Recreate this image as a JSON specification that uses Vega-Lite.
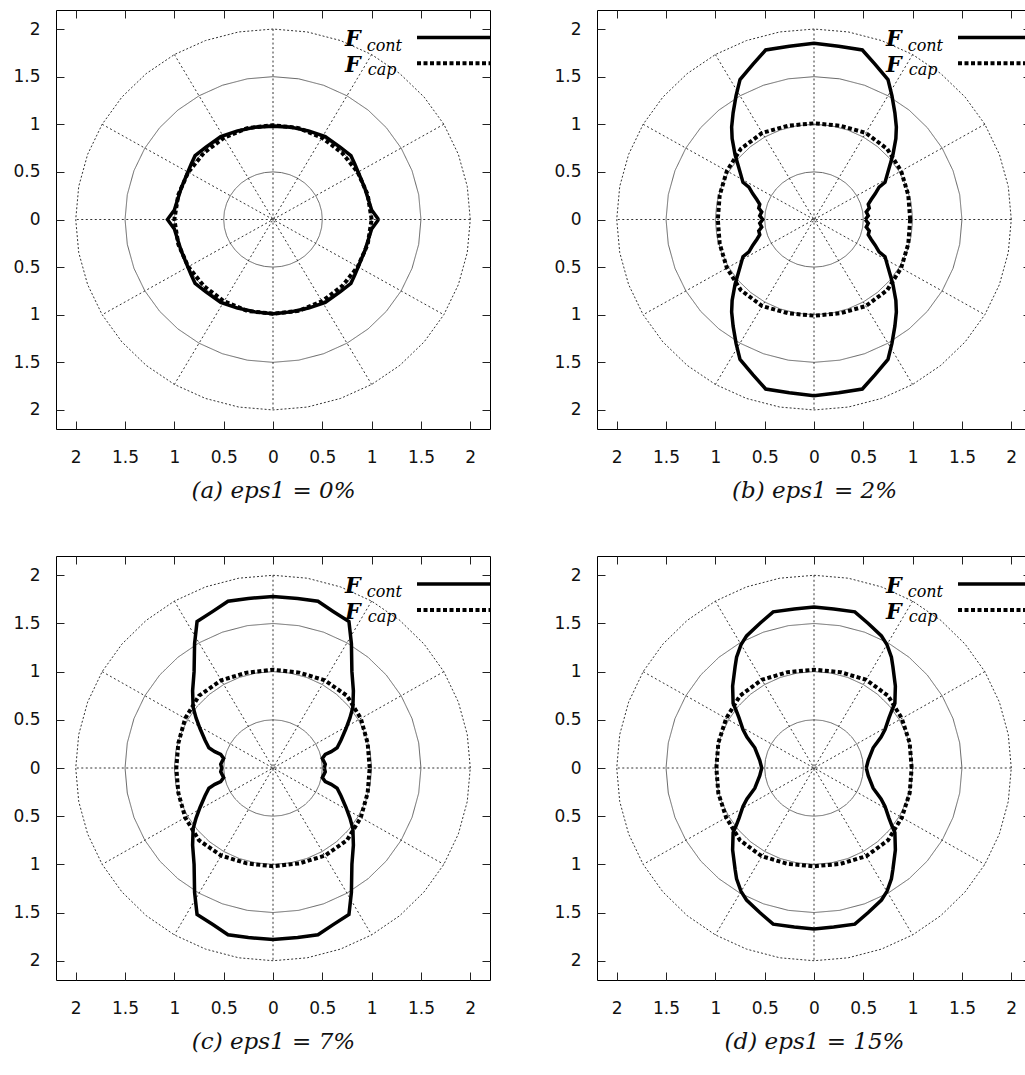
{
"$schema": "https://vega.github.io/schema/vega-lite/v6.json",
"background": "white",
"padding": {"left": 12, "top": 9, "right": 5, "bottom": 5},
"bounds": "flush",
"columns": 2,
"spacing": {"row": 127, "column": 107},
"config": {
 "view": {"stroke": "#000000", "strokeWidth": 1},
 "axis": {"grid": false, "domain": false, "tickSize": -8, "tickColor": "#222222", "tickWidth": 1, "labelFont": "DejaVu Sans", "labelFontSize": 17, "labelColor": "#111111", "titleFont": "DejaVu Serif", "titleFontStyle": "italic", "titleFontWeight": "normal", "titleFontSize": 23, "titleColor": "#111111"}
},
"datasets": {
"spokes": [
{"x":2,"y":0,"x2":-2,"y2":0},
{"x":1.7321,"y":1,"x2":-1.7321,"y2":-1},
{"x":1,"y":1.7321,"x2":-1,"y2":-1.7321},
{"x":0,"y":2,"x2":0,"y2":-2},
{"x":-1,"y":1.7321,"x2":1,"y2":-1.7321},
{"x":-1.7321,"y":1,"x2":1.7321,"y2":-1}
],
"grid": [
{"r":0.5,"i":0,"x":0.5,"y":0},{"r":0.5,"i":1,"x":0.4924,"y":0.0868},{"r":0.5,"i":2,"x":0.4698,"y":0.171},{"r":0.5,"i":3,"x":0.433,"y":0.25},{"r":0.5,"i":4,"x":0.383,"y":0.3214},{"r":0.5,"i":5,"x":0.3214,"y":0.383},{"r":0.5,"i":6,"x":0.25,"y":0.433},{"r":0.5,"i":7,"x":0.171,"y":0.4698},{"r":0.5,"i":8,"x":0.0868,"y":0.4924},{"r":0.5,"i":9,"x":0,"y":0.5},{"r":0.5,"i":10,"x":-0.0868,"y":0.4924},{"r":0.5,"i":11,"x":-0.171,"y":0.4698},{"r":0.5,"i":12,"x":-0.25,"y":0.433},{"r":0.5,"i":13,"x":-0.3214,"y":0.383},{"r":0.5,"i":14,"x":-0.383,"y":0.3214},{"r":0.5,"i":15,"x":-0.433,"y":0.25},{"r":0.5,"i":16,"x":-0.4698,"y":0.171},{"r":0.5,"i":17,"x":-0.4924,"y":0.0868},{"r":0.5,"i":18,"x":-0.5,"y":0},{"r":0.5,"i":19,"x":-0.4924,"y":-0.0868},{"r":0.5,"i":20,"x":-0.4698,"y":-0.171},{"r":0.5,"i":21,"x":-0.433,"y":-0.25},{"r":0.5,"i":22,"x":-0.383,"y":-0.3214},{"r":0.5,"i":23,"x":-0.3214,"y":-0.383},{"r":0.5,"i":24,"x":-0.25,"y":-0.433},{"r":0.5,"i":25,"x":-0.171,"y":-0.4698},{"r":0.5,"i":26,"x":-0.0868,"y":-0.4924},{"r":0.5,"i":27,"x":0,"y":-0.5},{"r":0.5,"i":28,"x":0.0868,"y":-0.4924},{"r":0.5,"i":29,"x":0.171,"y":-0.4698},{"r":0.5,"i":30,"x":0.25,"y":-0.433},{"r":0.5,"i":31,"x":0.3214,"y":-0.383},{"r":0.5,"i":32,"x":0.383,"y":-0.3214},{"r":0.5,"i":33,"x":0.433,"y":-0.25},{"r":0.5,"i":34,"x":0.4698,"y":-0.171},{"r":0.5,"i":35,"x":0.4924,"y":-0.0868},{"r":0.5,"i":36,"x":0.5,"y":0},
{"r":1,"i":0,"x":1,"y":0},{"r":1,"i":1,"x":0.9848,"y":0.1736},{"r":1,"i":2,"x":0.9397,"y":0.342},{"r":1,"i":3,"x":0.866,"y":0.5},{"r":1,"i":4,"x":0.766,"y":0.6428},{"r":1,"i":5,"x":0.6428,"y":0.766},{"r":1,"i":6,"x":0.5,"y":0.866},{"r":1,"i":7,"x":0.342,"y":0.9397},{"r":1,"i":8,"x":0.1736,"y":0.9848},{"r":1,"i":9,"x":0,"y":1},{"r":1,"i":10,"x":-0.1736,"y":0.9848},{"r":1,"i":11,"x":-0.342,"y":0.9397},{"r":1,"i":12,"x":-0.5,"y":0.866},{"r":1,"i":13,"x":-0.6428,"y":0.766},{"r":1,"i":14,"x":-0.766,"y":0.6428},{"r":1,"i":15,"x":-0.866,"y":0.5},{"r":1,"i":16,"x":-0.9397,"y":0.342},{"r":1,"i":17,"x":-0.9848,"y":0.1736},{"r":1,"i":18,"x":-1,"y":0},{"r":1,"i":19,"x":-0.9848,"y":-0.1736},{"r":1,"i":20,"x":-0.9397,"y":-0.342},{"r":1,"i":21,"x":-0.866,"y":-0.5},{"r":1,"i":22,"x":-0.766,"y":-0.6428},{"r":1,"i":23,"x":-0.6428,"y":-0.766},{"r":1,"i":24,"x":-0.5,"y":-0.866},{"r":1,"i":25,"x":-0.342,"y":-0.9397},{"r":1,"i":26,"x":-0.1736,"y":-0.9848},{"r":1,"i":27,"x":0,"y":-1},{"r":1,"i":28,"x":0.1736,"y":-0.9848},{"r":1,"i":29,"x":0.342,"y":-0.9397},{"r":1,"i":30,"x":0.5,"y":-0.866},{"r":1,"i":31,"x":0.6428,"y":-0.766},{"r":1,"i":32,"x":0.766,"y":-0.6428},{"r":1,"i":33,"x":0.866,"y":-0.5},{"r":1,"i":34,"x":0.9397,"y":-0.342},{"r":1,"i":35,"x":0.9848,"y":-0.1736},{"r":1,"i":36,"x":1,"y":0},
{"r":1.5,"i":0,"x":1.5,"y":0},{"r":1.5,"i":1,"x":1.4772,"y":0.2604},{"r":1.5,"i":2,"x":1.4095,"y":0.513},{"r":1.5,"i":3,"x":1.299,"y":0.75},{"r":1.5,"i":4,"x":1.149,"y":0.9642},{"r":1.5,"i":5,"x":0.9642,"y":1.149},{"r":1.5,"i":6,"x":0.75,"y":1.299},{"r":1.5,"i":7,"x":0.513,"y":1.4095},{"r":1.5,"i":8,"x":0.2604,"y":1.4772},{"r":1.5,"i":9,"x":0,"y":1.5},{"r":1.5,"i":10,"x":-0.2604,"y":1.4772},{"r":1.5,"i":11,"x":-0.513,"y":1.4095},{"r":1.5,"i":12,"x":-0.75,"y":1.299},{"r":1.5,"i":13,"x":-0.9642,"y":1.149},{"r":1.5,"i":14,"x":-1.149,"y":0.9642},{"r":1.5,"i":15,"x":-1.299,"y":0.75},{"r":1.5,"i":16,"x":-1.4095,"y":0.513},{"r":1.5,"i":17,"x":-1.4772,"y":0.2604},{"r":1.5,"i":18,"x":-1.5,"y":0},{"r":1.5,"i":19,"x":-1.4772,"y":-0.2604},{"r":1.5,"i":20,"x":-1.4095,"y":-0.513},{"r":1.5,"i":21,"x":-1.299,"y":-0.75},{"r":1.5,"i":22,"x":-1.149,"y":-0.9642},{"r":1.5,"i":23,"x":-0.9642,"y":-1.149},{"r":1.5,"i":24,"x":-0.75,"y":-1.299},{"r":1.5,"i":25,"x":-0.513,"y":-1.4095},{"r":1.5,"i":26,"x":-0.2604,"y":-1.4772},{"r":1.5,"i":27,"x":0,"y":-1.5},{"r":1.5,"i":28,"x":0.2604,"y":-1.4772},{"r":1.5,"i":29,"x":0.513,"y":-1.4095},{"r":1.5,"i":30,"x":0.75,"y":-1.299},{"r":1.5,"i":31,"x":0.9642,"y":-1.149},{"r":1.5,"i":32,"x":1.149,"y":-0.9642},{"r":1.5,"i":33,"x":1.299,"y":-0.75},{"r":1.5,"i":34,"x":1.4095,"y":-0.513},{"r":1.5,"i":35,"x":1.4772,"y":-0.2604},{"r":1.5,"i":36,"x":1.5,"y":0},
{"r":2,"i":0,"x":2,"y":0},{"r":2,"i":1,"x":1.9696,"y":0.3472},{"r":2,"i":2,"x":1.8794,"y":0.684},{"r":2,"i":3,"x":1.7321,"y":1},{"r":2,"i":4,"x":1.532,"y":1.2856},{"r":2,"i":5,"x":1.2856,"y":1.532},{"r":2,"i":6,"x":1,"y":1.7321},{"r":2,"i":7,"x":0.684,"y":1.8794},{"r":2,"i":8,"x":0.3472,"y":1.9696},{"r":2,"i":9,"x":0,"y":2},{"r":2,"i":10,"x":-0.3472,"y":1.9696},{"r":2,"i":11,"x":-0.684,"y":1.8794},{"r":2,"i":12,"x":-1,"y":1.7321},{"r":2,"i":13,"x":-1.2856,"y":1.532},{"r":2,"i":14,"x":-1.532,"y":1.2856},{"r":2,"i":15,"x":-1.7321,"y":1},{"r":2,"i":16,"x":-1.8794,"y":0.684},{"r":2,"i":17,"x":-1.9696,"y":0.3472},{"r":2,"i":18,"x":-2,"y":0},{"r":2,"i":19,"x":-1.9696,"y":-0.3472},{"r":2,"i":20,"x":-1.8794,"y":-0.684},{"r":2,"i":21,"x":-1.7321,"y":-1},{"r":2,"i":22,"x":-1.532,"y":-1.2856},{"r":2,"i":23,"x":-1.2856,"y":-1.532},{"r":2,"i":24,"x":-1,"y":-1.7321},{"r":2,"i":25,"x":-0.684,"y":-1.8794},{"r":2,"i":26,"x":-0.3472,"y":-1.9696},{"r":2,"i":27,"x":0,"y":-2},{"r":2,"i":28,"x":0.3472,"y":-1.9696},{"r":2,"i":29,"x":0.684,"y":-1.8794},{"r":2,"i":30,"x":1,"y":-1.7321},{"r":2,"i":31,"x":1.2856,"y":-1.532},{"r":2,"i":32,"x":1.532,"y":-1.2856},{"r":2,"i":33,"x":1.7321,"y":-1},{"r":2,"i":34,"x":1.8794,"y":-0.684},{"r":2,"i":35,"x":1.9696,"y":-0.3472},{"r":2,"i":36,"x":2,"y":0}
],
"a_cont": [
{"i":0,"x":1.07,"y":0},{"i":1,"x":1.0,"y":0.1},{"i":2,"x":0.97,"y":0.2},{"i":3,"x":0.93,"y":0.33},{"i":4,"x":0.87,"y":0.48},{"i":5,"x":0.83,"y":0.58},{"i":6,"x":0.79,"y":0.67},{"i":7,"x":0.68,"y":0.76},{"i":8,"x":0.53,"y":0.87},{"i":9,"x":0.36,"y":0.93},{"i":10,"x":0.18,"y":0.97},{"i":11,"x":0,"y":0.98},
{"i":12,"x":-0.18,"y":0.97},{"i":13,"x":-0.36,"y":0.93},{"i":14,"x":-0.53,"y":0.87},{"i":15,"x":-0.68,"y":0.76},{"i":16,"x":-0.79,"y":0.67},{"i":17,"x":-0.83,"y":0.58},{"i":18,"x":-0.87,"y":0.48},{"i":19,"x":-0.93,"y":0.33},{"i":20,"x":-0.97,"y":0.2},{"i":21,"x":-1.0,"y":0.1},{"i":22,"x":-1.07,"y":0},
{"i":23,"x":-1.0,"y":-0.1},{"i":24,"x":-0.97,"y":-0.2},{"i":25,"x":-0.93,"y":-0.33},{"i":26,"x":-0.87,"y":-0.48},{"i":27,"x":-0.83,"y":-0.58},{"i":28,"x":-0.79,"y":-0.67},{"i":29,"x":-0.68,"y":-0.76},{"i":30,"x":-0.53,"y":-0.87},{"i":31,"x":-0.36,"y":-0.93},{"i":32,"x":-0.18,"y":-0.97},{"i":33,"x":0,"y":-0.99},
{"i":34,"x":0.18,"y":-0.97},{"i":35,"x":0.36,"y":-0.93},{"i":36,"x":0.53,"y":-0.87},{"i":37,"x":0.68,"y":-0.76},{"i":38,"x":0.79,"y":-0.67},{"i":39,"x":0.83,"y":-0.58},{"i":40,"x":0.87,"y":-0.48},{"i":41,"x":0.93,"y":-0.33},{"i":42,"x":0.97,"y":-0.2},{"i":43,"x":1.0,"y":-0.1},{"i":44,"x":1.07,"y":0}
],
"a_cap": [
{"i":0,"x":1,"y":0},{"i":1,"x":0.96,"y":0.26},{"i":2,"x":0.86,"y":0.495},{"i":3,"x":0.7,"y":0.7},{"i":4,"x":0.495,"y":0.86},{"i":5,"x":0.26,"y":0.96},{"i":6,"x":0,"y":0.99},
{"i":7,"x":-0.26,"y":0.96},{"i":8,"x":-0.495,"y":0.86},{"i":9,"x":-0.7,"y":0.7},{"i":10,"x":-0.86,"y":0.495},{"i":11,"x":-0.96,"y":0.26},{"i":12,"x":-1,"y":0},
{"i":13,"x":-0.96,"y":-0.26},{"i":14,"x":-0.86,"y":-0.495},{"i":15,"x":-0.7,"y":-0.7},{"i":16,"x":-0.495,"y":-0.86},{"i":17,"x":-0.26,"y":-0.96},{"i":18,"x":0,"y":-0.99},
{"i":19,"x":0.26,"y":-0.96},{"i":20,"x":0.495,"y":-0.86},{"i":21,"x":0.7,"y":-0.7},{"i":22,"x":0.86,"y":-0.495},{"i":23,"x":0.96,"y":-0.26},{"i":24,"x":1,"y":0}
],
"b_cont": [
{"i":0,"x":0.52,"y":0},{"i":1,"x":0.55,"y":0.04},{"i":2,"x":0.53,"y":0.08},{"i":3,"x":0.56,"y":0.12},{"i":4,"x":0.55,"y":0.16},{"i":5,"x":0.58,"y":0.21},{"i":6,"x":0.62,"y":0.27},{"i":7,"x":0.66,"y":0.34},{"i":8,"x":0.72,"y":0.39},{"i":9,"x":0.75,"y":0.5},{"i":10,"x":0.8,"y":0.68},{"i":11,"x":0.83,"y":0.85},{"i":12,"x":0.835,"y":0.97},{"i":13,"x":0.82,"y":1.12},{"i":14,"x":0.79,"y":1.3},{"i":15,"x":0.75,"y":1.47},{"i":16,"x":0.62,"y":1.63},{"i":17,"x":0.49,"y":1.78},{"i":18,"x":0.25,"y":1.82},{"i":19,"x":0,"y":1.85},
{"i":20,"x":-0.25,"y":1.82},{"i":21,"x":-0.49,"y":1.78},{"i":22,"x":-0.62,"y":1.63},{"i":23,"x":-0.75,"y":1.47},{"i":24,"x":-0.79,"y":1.3},{"i":25,"x":-0.82,"y":1.12},{"i":26,"x":-0.835,"y":0.97},{"i":27,"x":-0.83,"y":0.85},{"i":28,"x":-0.8,"y":0.68},{"i":29,"x":-0.75,"y":0.5},{"i":30,"x":-0.72,"y":0.39},{"i":31,"x":-0.66,"y":0.34},{"i":32,"x":-0.62,"y":0.27},{"i":33,"x":-0.58,"y":0.21},{"i":34,"x":-0.55,"y":0.16},{"i":35,"x":-0.56,"y":0.12},{"i":36,"x":-0.53,"y":0.08},{"i":37,"x":-0.55,"y":0.04},{"i":38,"x":-0.52,"y":0},
{"i":39,"x":-0.55,"y":-0.04},{"i":40,"x":-0.53,"y":-0.08},{"i":41,"x":-0.56,"y":-0.12},{"i":42,"x":-0.55,"y":-0.16},{"i":43,"x":-0.58,"y":-0.21},{"i":44,"x":-0.62,"y":-0.27},{"i":45,"x":-0.66,"y":-0.34},{"i":46,"x":-0.72,"y":-0.39},{"i":47,"x":-0.75,"y":-0.5},{"i":48,"x":-0.8,"y":-0.68},{"i":49,"x":-0.83,"y":-0.85},{"i":50,"x":-0.835,"y":-0.97},{"i":51,"x":-0.82,"y":-1.12},{"i":52,"x":-0.79,"y":-1.3},{"i":53,"x":-0.75,"y":-1.47},{"i":54,"x":-0.62,"y":-1.63},{"i":55,"x":-0.49,"y":-1.78},{"i":56,"x":-0.25,"y":-1.82},{"i":57,"x":0,"y":-1.85},
{"i":58,"x":0.25,"y":-1.82},{"i":59,"x":0.49,"y":-1.78},{"i":60,"x":0.62,"y":-1.63},{"i":61,"x":0.75,"y":-1.47},{"i":62,"x":0.79,"y":-1.3},{"i":63,"x":0.82,"y":-1.12},{"i":64,"x":0.835,"y":-0.97},{"i":65,"x":0.83,"y":-0.85},{"i":66,"x":0.8,"y":-0.68},{"i":67,"x":0.75,"y":-0.5},{"i":68,"x":0.72,"y":-0.39},{"i":69,"x":0.66,"y":-0.34},{"i":70,"x":0.62,"y":-0.27},{"i":71,"x":0.58,"y":-0.21},{"i":72,"x":0.55,"y":-0.16},{"i":73,"x":0.56,"y":-0.12},{"i":74,"x":0.53,"y":-0.08},{"i":75,"x":0.55,"y":-0.04},{"i":76,"x":0.52,"y":0}
],
"b_cap": [
{"i":0,"x":0.975,"y":0},{"i":1,"x":0.956,"y":0.256},{"i":2,"x":0.883,"y":0.51},{"i":3,"x":0.742,"y":0.742},{"i":4,"x":0.525,"y":0.909},{"i":5,"x":0.264,"y":0.985},{"i":6,"x":0,"y":1.01},
{"i":7,"x":-0.264,"y":0.985},{"i":8,"x":-0.525,"y":0.909},{"i":9,"x":-0.742,"y":0.742},{"i":10,"x":-0.883,"y":0.51},{"i":11,"x":-0.956,"y":0.256},{"i":12,"x":-0.975,"y":0},
{"i":13,"x":-0.956,"y":-0.256},{"i":14,"x":-0.883,"y":-0.51},{"i":15,"x":-0.742,"y":-0.742},{"i":16,"x":-0.525,"y":-0.909},{"i":17,"x":-0.264,"y":-0.985},{"i":18,"x":0,"y":-1.01},
{"i":19,"x":0.264,"y":-0.985},{"i":20,"x":0.525,"y":-0.909},{"i":21,"x":0.742,"y":-0.742},{"i":22,"x":0.883,"y":-0.51},{"i":23,"x":0.956,"y":-0.256},{"i":24,"x":0.975,"y":0}
],
"c_cont": [
{"i":0,"x":0.52,"y":0},{"i":1,"x":0.53,"y":0.04},{"i":2,"x":0.5,"y":0.1},{"i":3,"x":0.53,"y":0.14},{"i":4,"x":0.59,"y":0.17},{"i":5,"x":0.65,"y":0.21},{"i":6,"x":0.69,"y":0.29},{"i":7,"x":0.74,"y":0.41},{"i":8,"x":0.78,"y":0.52},{"i":9,"x":0.81,"y":0.63},{"i":10,"x":0.815,"y":0.8},{"i":11,"x":0.8,"y":1},{"i":12,"x":0.795,"y":1.29},{"i":13,"x":0.77,"y":1.52},{"i":14,"x":0.61,"y":1.625},{"i":15,"x":0.456,"y":1.73},{"i":16,"x":0.25,"y":1.76},{"i":17,"x":0,"y":1.78},
{"i":18,"x":-0.25,"y":1.76},{"i":19,"x":-0.456,"y":1.73},{"i":20,"x":-0.61,"y":1.625},{"i":21,"x":-0.77,"y":1.52},{"i":22,"x":-0.795,"y":1.29},{"i":23,"x":-0.8,"y":1},{"i":24,"x":-0.815,"y":0.8},{"i":25,"x":-0.81,"y":0.63},{"i":26,"x":-0.78,"y":0.52},{"i":27,"x":-0.74,"y":0.41},{"i":28,"x":-0.69,"y":0.29},{"i":29,"x":-0.65,"y":0.21},{"i":30,"x":-0.59,"y":0.17},{"i":31,"x":-0.53,"y":0.14},{"i":32,"x":-0.5,"y":0.1},{"i":33,"x":-0.53,"y":0.04},{"i":34,"x":-0.52,"y":0},
{"i":35,"x":-0.53,"y":-0.04},{"i":36,"x":-0.5,"y":-0.1},{"i":37,"x":-0.53,"y":-0.14},{"i":38,"x":-0.59,"y":-0.17},{"i":39,"x":-0.65,"y":-0.21},{"i":40,"x":-0.69,"y":-0.29},{"i":41,"x":-0.74,"y":-0.41},{"i":42,"x":-0.78,"y":-0.52},{"i":43,"x":-0.81,"y":-0.63},{"i":44,"x":-0.815,"y":-0.8},{"i":45,"x":-0.8,"y":-1},{"i":46,"x":-0.795,"y":-1.29},{"i":47,"x":-0.77,"y":-1.52},{"i":48,"x":-0.61,"y":-1.625},{"i":49,"x":-0.456,"y":-1.73},{"i":50,"x":-0.25,"y":-1.76},{"i":51,"x":0,"y":-1.78},
{"i":52,"x":0.25,"y":-1.76},{"i":53,"x":0.456,"y":-1.73},{"i":54,"x":0.61,"y":-1.625},{"i":55,"x":0.77,"y":-1.52},{"i":56,"x":0.795,"y":-1.29},{"i":57,"x":0.8,"y":-1},{"i":58,"x":0.815,"y":-0.8},{"i":59,"x":0.81,"y":-0.63},{"i":60,"x":0.78,"y":-0.52},{"i":61,"x":0.74,"y":-0.41},{"i":62,"x":0.69,"y":-0.29},{"i":63,"x":0.65,"y":-0.21},{"i":64,"x":0.59,"y":-0.17},{"i":65,"x":0.53,"y":-0.14},{"i":66,"x":0.5,"y":-0.1},{"i":67,"x":0.53,"y":-0.04},{"i":68,"x":0.52,"y":0}
],
"c_cap": [
{"i":0,"x":0.98,"y":0},{"i":1,"x":0.96,"y":0.257},{"i":2,"x":0.89,"y":0.515},{"i":3,"x":0.75,"y":0.75},{"i":4,"x":0.525,"y":0.91},{"i":5,"x":0.266,"y":0.99},{"i":6,"x":0,"y":1.02},
{"i":7,"x":-0.266,"y":0.99},{"i":8,"x":-0.525,"y":0.91},{"i":9,"x":-0.75,"y":0.75},{"i":10,"x":-0.89,"y":0.515},{"i":11,"x":-0.96,"y":0.257},{"i":12,"x":-0.98,"y":0},
{"i":13,"x":-0.96,"y":-0.257},{"i":14,"x":-0.89,"y":-0.515},{"i":15,"x":-0.75,"y":-0.75},{"i":16,"x":-0.525,"y":-0.91},{"i":17,"x":-0.266,"y":-0.99},{"i":18,"x":0,"y":-1.02},
{"i":19,"x":0.266,"y":-0.99},{"i":20,"x":0.525,"y":-0.91},{"i":21,"x":0.75,"y":-0.75},{"i":22,"x":0.89,"y":-0.515},{"i":23,"x":0.96,"y":-0.257},{"i":24,"x":0.98,"y":0}
],
"d_cont": [
{"i":0,"x":0.53,"y":0},{"i":1,"x":0.55,"y":0.08},{"i":2,"x":0.6,"y":0.21},{"i":3,"x":0.68,"y":0.32},{"i":4,"x":0.72,"y":0.4},{"i":5,"x":0.76,"y":0.52},{"i":6,"x":0.79,"y":0.6},{"i":7,"x":0.82,"y":0.67},{"i":8,"x":0.825,"y":0.85},{"i":9,"x":0.8,"y":1.05},{"i":10,"x":0.785,"y":1.15},{"i":11,"x":0.74,"y":1.28},{"i":12,"x":0.684,"y":1.37},{"i":13,"x":0.55,"y":1.5},{"i":14,"x":0.414,"y":1.62},{"i":15,"x":0.2,"y":1.65},{"i":16,"x":0,"y":1.67},
{"i":17,"x":-0.2,"y":1.65},{"i":18,"x":-0.414,"y":1.62},{"i":19,"x":-0.55,"y":1.5},{"i":20,"x":-0.684,"y":1.37},{"i":21,"x":-0.74,"y":1.28},{"i":22,"x":-0.785,"y":1.15},{"i":23,"x":-0.8,"y":1.05},{"i":24,"x":-0.825,"y":0.85},{"i":25,"x":-0.82,"y":0.67},{"i":26,"x":-0.79,"y":0.6},{"i":27,"x":-0.76,"y":0.52},{"i":28,"x":-0.72,"y":0.4},{"i":29,"x":-0.68,"y":0.32},{"i":30,"x":-0.6,"y":0.21},{"i":31,"x":-0.55,"y":0.08},{"i":32,"x":-0.53,"y":0},
{"i":33,"x":-0.55,"y":-0.08},{"i":34,"x":-0.6,"y":-0.21},{"i":35,"x":-0.68,"y":-0.32},{"i":36,"x":-0.72,"y":-0.4},{"i":37,"x":-0.76,"y":-0.52},{"i":38,"x":-0.79,"y":-0.6},{"i":39,"x":-0.82,"y":-0.67},{"i":40,"x":-0.825,"y":-0.85},{"i":41,"x":-0.8,"y":-1.05},{"i":42,"x":-0.785,"y":-1.15},{"i":43,"x":-0.74,"y":-1.28},{"i":44,"x":-0.684,"y":-1.37},{"i":45,"x":-0.55,"y":-1.5},{"i":46,"x":-0.414,"y":-1.62},{"i":47,"x":-0.2,"y":-1.65},{"i":48,"x":0,"y":-1.67},
{"i":49,"x":0.2,"y":-1.65},{"i":50,"x":0.414,"y":-1.62},{"i":51,"x":0.55,"y":-1.5},{"i":52,"x":0.684,"y":-1.37},{"i":53,"x":0.74,"y":-1.28},{"i":54,"x":0.785,"y":-1.15},{"i":55,"x":0.8,"y":-1.05},{"i":56,"x":0.825,"y":-0.85},{"i":57,"x":0.82,"y":-0.67},{"i":58,"x":0.79,"y":-0.6},{"i":59,"x":0.76,"y":-0.52},{"i":60,"x":0.72,"y":-0.4},{"i":61,"x":0.68,"y":-0.32},{"i":62,"x":0.6,"y":-0.21},{"i":63,"x":0.55,"y":-0.08},{"i":64,"x":0.53,"y":0}
],
"d_cap": [
{"i":0,"x":0.99,"y":0},{"i":1,"x":0.97,"y":0.26},{"i":2,"x":0.89,"y":0.515},{"i":3,"x":0.75,"y":0.75},{"i":4,"x":0.53,"y":0.915},{"i":5,"x":0.267,"y":0.995},{"i":6,"x":0,"y":1.02},
{"i":7,"x":-0.267,"y":0.995},{"i":8,"x":-0.53,"y":0.915},{"i":9,"x":-0.75,"y":0.75},{"i":10,"x":-0.89,"y":0.515},{"i":11,"x":-0.97,"y":0.26},{"i":12,"x":-0.99,"y":0},
{"i":13,"x":-0.97,"y":-0.26},{"i":14,"x":-0.89,"y":-0.515},{"i":15,"x":-0.75,"y":-0.75},{"i":16,"x":-0.53,"y":-0.915},{"i":17,"x":-0.267,"y":-0.995},{"i":18,"x":0,"y":-1.02},
{"i":19,"x":0.267,"y":-0.995},{"i":20,"x":0.53,"y":-0.915},{"i":21,"x":0.75,"y":-0.75},{"i":22,"x":0.89,"y":-0.515},{"i":23,"x":0.97,"y":-0.26},{"i":24,"x":0.99,"y":0}
]
},
"concat": [
{
 "width": 434, "height": 419,
 "resolve": {"axis": {"x": "independent", "y": "independent"}},
 "layer": [
  {"data": {"name": "grid"}, "mark": {"type": "line", "strokeWidth": 1},
   "encoding": {
    "x": {"field": "x", "type": "quantitative", "scale": {"domain": [-2.2, 2.2], "nice": false, "zero": false}, "axis": {"values": [-2,-1.5,-1,-0.5,0,0.5,1,1.5,2], "labelExpr": "abs(datum.value) + ''", "labelPadding": 28, "labelFlush": false, "title": "(a) eps1 = 0%", "titlePadding": 14}},
    "y": {"field": "y", "type": "quantitative", "scale": {"domain": [-2.2, 2.2], "nice": false, "zero": false}, "axis": {"values": [-2,-1.5,-1,-0.5,0,0.5,1,1.5,2], "labelExpr": "abs(datum.value) + ''", "labelPadding": 24, "labelFlush": false, "title": null}},
    "detail": {"field": "r", "type": "nominal"},
    "order": {"field": "i", "type": "quantitative"},
    "color": {"condition": {"test": "datum.r == 2", "value": "#333333"}, "value": "#666666"},
    "strokeDash": {"condition": {"test": "datum.r == 2", "value": [2, 2]}, "value": [1, 0]}
   }},
  {"data": {"name": "spokes"}, "mark": {"type": "rule", "color": "#333333", "strokeWidth": 1, "strokeDash": [2, 2.5]},
   "encoding": {
    "x": {"field": "x", "type": "quantitative", "scale": {"domain": [-2.2, 2.2], "nice": false, "zero": false}, "axis": {"orient": "top", "values": [-2,-1.5,-1,-0.5,0,0.5,1,1.5,2], "labels": false, "title": null}},
    "y": {"field": "y", "type": "quantitative", "scale": {"domain": [-2.2, 2.2], "nice": false, "zero": false}, "axis": {"orient": "right", "values": [-2,-1.5,-1,-0.5,0,0.5,1,1.5,2], "labels": false, "title": null}},
    "x2": {"field": "x2"}, "y2": {"field": "y2"}
   }},
  {"data": {"name": "a_cap"}, "mark": {"type": "line", "color": "#000000", "strokeWidth": 4, "strokeDash": [4, 2.5]},
   "encoding": {"x": {"field": "x", "type": "quantitative", "scale": {"domain": [-2.2, 2.2], "nice": false, "zero": false}, "axis": null}, "y": {"field": "y", "type": "quantitative", "scale": {"domain": [-2.2, 2.2], "nice": false, "zero": false}, "axis": null}, "order": {"field": "i", "type": "quantitative"}}},
  {"data": {"name": "a_cont"}, "mark": {"type": "line", "color": "#000000", "strokeWidth": 3.5},
   "encoding": {"x": {"field": "x", "type": "quantitative", "scale": {"domain": [-2.2, 2.2], "nice": false, "zero": false}, "axis": null}, "y": {"field": "y", "type": "quantitative", "scale": {"domain": [-2.2, 2.2], "nice": false, "zero": false}, "axis": null}, "order": {"field": "i", "type": "quantitative"}}},
  {"data": {"values": [{}]}, "mark": {"type": "rule", "color": "#000000", "strokeWidth": 3.5},
   "encoding": {"x": {"datum": 1.46, "type": "quantitative", "scale": {"domain": [-2.2, 2.2], "nice": false, "zero": false}, "axis": null}, "x2": {"datum": 2.2}, "y": {"datum": 1.91, "type": "quantitative", "scale": {"domain": [-2.2, 2.2], "nice": false, "zero": false}, "axis": null}}},
  {"data": {"values": [{}]}, "mark": {"type": "rule", "color": "#000000", "strokeWidth": 4, "strokeDash": [4, 2.5]},
   "encoding": {"x": {"datum": 1.46, "type": "quantitative", "scale": {"domain": [-2.2, 2.2], "nice": false, "zero": false}, "axis": null}, "x2": {"datum": 2.2}, "y": {"datum": 1.64, "type": "quantitative", "scale": {"domain": [-2.2, 2.2], "nice": false, "zero": false}, "axis": null}}},
  {"data": {"values": [{}]}, "mark": {"type": "text", "text": "F", "font": "DejaVu Serif", "fontStyle": "italic", "fontWeight": "bold", "fontSize": 22, "align": "left", "baseline": "alphabetic", "color": "#000000"},
   "encoding": {"x": {"datum": 0.73, "type": "quantitative", "scale": {"domain": [-2.2, 2.2], "nice": false, "zero": false}, "axis": null}, "y": {"datum": 1.82, "type": "quantitative", "scale": {"domain": [-2.2, 2.2], "nice": false, "zero": false}, "axis": null}}},
  {"data": {"values": [{}]}, "mark": {"type": "text", "text": "cont", "font": "DejaVu Serif", "fontStyle": "italic", "fontSize": 16, "align": "left", "baseline": "alphabetic", "color": "#000000"},
   "encoding": {"x": {"datum": 0.95, "type": "quantitative", "scale": {"domain": [-2.2, 2.2], "nice": false, "zero": false}, "axis": null}, "y": {"datum": 1.77, "type": "quantitative", "scale": {"domain": [-2.2, 2.2], "nice": false, "zero": false}, "axis": null}}},
  {"data": {"values": [{}]}, "mark": {"type": "text", "text": "F", "font": "DejaVu Serif", "fontStyle": "italic", "fontWeight": "bold", "fontSize": 22, "align": "left", "baseline": "alphabetic", "color": "#000000"},
   "encoding": {"x": {"datum": 0.73, "type": "quantitative", "scale": {"domain": [-2.2, 2.2], "nice": false, "zero": false}, "axis": null}, "y": {"datum": 1.55, "type": "quantitative", "scale": {"domain": [-2.2, 2.2], "nice": false, "zero": false}, "axis": null}}},
  {"data": {"values": [{}]}, "mark": {"type": "text", "text": "cap", "font": "DejaVu Serif", "fontStyle": "italic", "fontSize": 16, "align": "left", "baseline": "alphabetic", "color": "#000000"},
   "encoding": {"x": {"datum": 0.96, "type": "quantitative", "scale": {"domain": [-2.2, 2.2], "nice": false, "zero": false}, "axis": null}, "y": {"datum": 1.52, "type": "quantitative", "scale": {"domain": [-2.2, 2.2], "nice": false, "zero": false}, "axis": null}}}
 ]
},
{
 "width": 434, "height": 419,
 "resolve": {"axis": {"x": "independent", "y": "independent"}},
 "layer": [
  {"data": {"name": "grid"}, "mark": {"type": "line", "strokeWidth": 1},
   "encoding": {
    "x": {"field": "x", "type": "quantitative", "scale": {"domain": [-2.2, 2.2], "nice": false, "zero": false}, "axis": {"values": [-2,-1.5,-1,-0.5,0,0.5,1,1.5,2], "labelExpr": "abs(datum.value) + ''", "labelPadding": 28, "labelFlush": false, "title": "(b) eps1 = 2%", "titlePadding": 14}},
    "y": {"field": "y", "type": "quantitative", "scale": {"domain": [-2.2, 2.2], "nice": false, "zero": false}, "axis": {"values": [-2,-1.5,-1,-0.5,0,0.5,1,1.5,2], "labelExpr": "abs(datum.value) + ''", "labelPadding": 24, "labelFlush": false, "title": null}},
    "detail": {"field": "r", "type": "nominal"},
    "order": {"field": "i", "type": "quantitative"},
    "color": {"condition": {"test": "datum.r == 2", "value": "#333333"}, "value": "#666666"},
    "strokeDash": {"condition": {"test": "datum.r == 2", "value": [2, 2]}, "value": [1, 0]}
   }},
  {"data": {"name": "spokes"}, "mark": {"type": "rule", "color": "#333333", "strokeWidth": 1, "strokeDash": [2, 2.5]},
   "encoding": {
    "x": {"field": "x", "type": "quantitative", "scale": {"domain": [-2.2, 2.2], "nice": false, "zero": false}, "axis": {"orient": "top", "values": [-2,-1.5,-1,-0.5,0,0.5,1,1.5,2], "labels": false, "title": null}},
    "y": {"field": "y", "type": "quantitative", "scale": {"domain": [-2.2, 2.2], "nice": false, "zero": false}, "axis": {"orient": "right", "values": [-2,-1.5,-1,-0.5,0,0.5,1,1.5,2], "labels": false, "title": null}},
    "x2": {"field": "x2"}, "y2": {"field": "y2"}
   }},
  {"data": {"name": "b_cap"}, "mark": {"type": "line", "color": "#000000", "strokeWidth": 4, "strokeDash": [4, 2.5]},
   "encoding": {"x": {"field": "x", "type": "quantitative", "scale": {"domain": [-2.2, 2.2], "nice": false, "zero": false}, "axis": null}, "y": {"field": "y", "type": "quantitative", "scale": {"domain": [-2.2, 2.2], "nice": false, "zero": false}, "axis": null}, "order": {"field": "i", "type": "quantitative"}}},
  {"data": {"name": "b_cont"}, "mark": {"type": "line", "color": "#000000", "strokeWidth": 3.5},
   "encoding": {"x": {"field": "x", "type": "quantitative", "scale": {"domain": [-2.2, 2.2], "nice": false, "zero": false}, "axis": null}, "y": {"field": "y", "type": "quantitative", "scale": {"domain": [-2.2, 2.2], "nice": false, "zero": false}, "axis": null}, "order": {"field": "i", "type": "quantitative"}}},
  {"data": {"values": [{}]}, "mark": {"type": "rule", "color": "#000000", "strokeWidth": 3.5},
   "encoding": {"x": {"datum": 1.46, "type": "quantitative", "scale": {"domain": [-2.2, 2.2], "nice": false, "zero": false}, "axis": null}, "x2": {"datum": 2.2}, "y": {"datum": 1.91, "type": "quantitative", "scale": {"domain": [-2.2, 2.2], "nice": false, "zero": false}, "axis": null}}},
  {"data": {"values": [{}]}, "mark": {"type": "rule", "color": "#000000", "strokeWidth": 4, "strokeDash": [4, 2.5]},
   "encoding": {"x": {"datum": 1.46, "type": "quantitative", "scale": {"domain": [-2.2, 2.2], "nice": false, "zero": false}, "axis": null}, "x2": {"datum": 2.2}, "y": {"datum": 1.64, "type": "quantitative", "scale": {"domain": [-2.2, 2.2], "nice": false, "zero": false}, "axis": null}}},
  {"data": {"values": [{}]}, "mark": {"type": "text", "text": "F", "font": "DejaVu Serif", "fontStyle": "italic", "fontWeight": "bold", "fontSize": 22, "align": "left", "baseline": "alphabetic", "color": "#000000"},
   "encoding": {"x": {"datum": 0.73, "type": "quantitative", "scale": {"domain": [-2.2, 2.2], "nice": false, "zero": false}, "axis": null}, "y": {"datum": 1.82, "type": "quantitative", "scale": {"domain": [-2.2, 2.2], "nice": false, "zero": false}, "axis": null}}},
  {"data": {"values": [{}]}, "mark": {"type": "text", "text": "cont", "font": "DejaVu Serif", "fontStyle": "italic", "fontSize": 16, "align": "left", "baseline": "alphabetic", "color": "#000000"},
   "encoding": {"x": {"datum": 0.95, "type": "quantitative", "scale": {"domain": [-2.2, 2.2], "nice": false, "zero": false}, "axis": null}, "y": {"datum": 1.77, "type": "quantitative", "scale": {"domain": [-2.2, 2.2], "nice": false, "zero": false}, "axis": null}}},
  {"data": {"values": [{}]}, "mark": {"type": "text", "text": "F", "font": "DejaVu Serif", "fontStyle": "italic", "fontWeight": "bold", "fontSize": 22, "align": "left", "baseline": "alphabetic", "color": "#000000"},
   "encoding": {"x": {"datum": 0.73, "type": "quantitative", "scale": {"domain": [-2.2, 2.2], "nice": false, "zero": false}, "axis": null}, "y": {"datum": 1.55, "type": "quantitative", "scale": {"domain": [-2.2, 2.2], "nice": false, "zero": false}, "axis": null}}},
  {"data": {"values": [{}]}, "mark": {"type": "text", "text": "cap", "font": "DejaVu Serif", "fontStyle": "italic", "fontSize": 16, "align": "left", "baseline": "alphabetic", "color": "#000000"},
   "encoding": {"x": {"datum": 0.96, "type": "quantitative", "scale": {"domain": [-2.2, 2.2], "nice": false, "zero": false}, "axis": null}, "y": {"datum": 1.52, "type": "quantitative", "scale": {"domain": [-2.2, 2.2], "nice": false, "zero": false}, "axis": null}}}
 ]
},
{
 "width": 434, "height": 424,
 "resolve": {"axis": {"x": "independent", "y": "independent"}},
 "layer": [
  {"data": {"name": "grid"}, "mark": {"type": "line", "strokeWidth": 1},
   "encoding": {
    "x": {"field": "x", "type": "quantitative", "scale": {"domain": [-2.2, 2.2], "nice": false, "zero": false}, "axis": {"values": [-2,-1.5,-1,-0.5,0,0.5,1,1.5,2], "labelExpr": "abs(datum.value) + ''", "labelPadding": 28, "labelFlush": false, "title": "(c) eps1 = 7%", "titlePadding": 14}},
    "y": {"field": "y", "type": "quantitative", "scale": {"domain": [-2.2, 2.2], "nice": false, "zero": false}, "axis": {"values": [-2,-1.5,-1,-0.5,0,0.5,1,1.5,2], "labelExpr": "abs(datum.value) + ''", "labelPadding": 24, "labelFlush": false, "title": null}},
    "detail": {"field": "r", "type": "nominal"},
    "order": {"field": "i", "type": "quantitative"},
    "color": {"condition": {"test": "datum.r == 2", "value": "#333333"}, "value": "#666666"},
    "strokeDash": {"condition": {"test": "datum.r == 2", "value": [2, 2]}, "value": [1, 0]}
   }},
  {"data": {"name": "spokes"}, "mark": {"type": "rule", "color": "#333333", "strokeWidth": 1, "strokeDash": [2, 2.5]},
   "encoding": {
    "x": {"field": "x", "type": "quantitative", "scale": {"domain": [-2.2, 2.2], "nice": false, "zero": false}, "axis": {"orient": "top", "values": [-2,-1.5,-1,-0.5,0,0.5,1,1.5,2], "labels": false, "title": null}},
    "y": {"field": "y", "type": "quantitative", "scale": {"domain": [-2.2, 2.2], "nice": false, "zero": false}, "axis": {"orient": "right", "values": [-2,-1.5,-1,-0.5,0,0.5,1,1.5,2], "labels": false, "title": null}},
    "x2": {"field": "x2"}, "y2": {"field": "y2"}
   }},
  {"data": {"name": "c_cap"}, "mark": {"type": "line", "color": "#000000", "strokeWidth": 4, "strokeDash": [4, 2.5]},
   "encoding": {"x": {"field": "x", "type": "quantitative", "scale": {"domain": [-2.2, 2.2], "nice": false, "zero": false}, "axis": null}, "y": {"field": "y", "type": "quantitative", "scale": {"domain": [-2.2, 2.2], "nice": false, "zero": false}, "axis": null}, "order": {"field": "i", "type": "quantitative"}}},
  {"data": {"name": "c_cont"}, "mark": {"type": "line", "color": "#000000", "strokeWidth": 3.5},
   "encoding": {"x": {"field": "x", "type": "quantitative", "scale": {"domain": [-2.2, 2.2], "nice": false, "zero": false}, "axis": null}, "y": {"field": "y", "type": "quantitative", "scale": {"domain": [-2.2, 2.2], "nice": false, "zero": false}, "axis": null}, "order": {"field": "i", "type": "quantitative"}}},
  {"data": {"values": [{}]}, "mark": {"type": "rule", "color": "#000000", "strokeWidth": 3.5},
   "encoding": {"x": {"datum": 1.46, "type": "quantitative", "scale": {"domain": [-2.2, 2.2], "nice": false, "zero": false}, "axis": null}, "x2": {"datum": 2.2}, "y": {"datum": 1.91, "type": "quantitative", "scale": {"domain": [-2.2, 2.2], "nice": false, "zero": false}, "axis": null}}},
  {"data": {"values": [{}]}, "mark": {"type": "rule", "color": "#000000", "strokeWidth": 4, "strokeDash": [4, 2.5]},
   "encoding": {"x": {"datum": 1.46, "type": "quantitative", "scale": {"domain": [-2.2, 2.2], "nice": false, "zero": false}, "axis": null}, "x2": {"datum": 2.2}, "y": {"datum": 1.64, "type": "quantitative", "scale": {"domain": [-2.2, 2.2], "nice": false, "zero": false}, "axis": null}}},
  {"data": {"values": [{}]}, "mark": {"type": "text", "text": "F", "font": "DejaVu Serif", "fontStyle": "italic", "fontWeight": "bold", "fontSize": 22, "align": "left", "baseline": "alphabetic", "color": "#000000"},
   "encoding": {"x": {"datum": 0.73, "type": "quantitative", "scale": {"domain": [-2.2, 2.2], "nice": false, "zero": false}, "axis": null}, "y": {"datum": 1.82, "type": "quantitative", "scale": {"domain": [-2.2, 2.2], "nice": false, "zero": false}, "axis": null}}},
  {"data": {"values": [{}]}, "mark": {"type": "text", "text": "cont", "font": "DejaVu Serif", "fontStyle": "italic", "fontSize": 16, "align": "left", "baseline": "alphabetic", "color": "#000000"},
   "encoding": {"x": {"datum": 0.95, "type": "quantitative", "scale": {"domain": [-2.2, 2.2], "nice": false, "zero": false}, "axis": null}, "y": {"datum": 1.77, "type": "quantitative", "scale": {"domain": [-2.2, 2.2], "nice": false, "zero": false}, "axis": null}}},
  {"data": {"values": [{}]}, "mark": {"type": "text", "text": "F", "font": "DejaVu Serif", "fontStyle": "italic", "fontWeight": "bold", "fontSize": 22, "align": "left", "baseline": "alphabetic", "color": "#000000"},
   "encoding": {"x": {"datum": 0.73, "type": "quantitative", "scale": {"domain": [-2.2, 2.2], "nice": false, "zero": false}, "axis": null}, "y": {"datum": 1.55, "type": "quantitative", "scale": {"domain": [-2.2, 2.2], "nice": false, "zero": false}, "axis": null}}},
  {"data": {"values": [{}]}, "mark": {"type": "text", "text": "cap", "font": "DejaVu Serif", "fontStyle": "italic", "fontSize": 16, "align": "left", "baseline": "alphabetic", "color": "#000000"},
   "encoding": {"x": {"datum": 0.96, "type": "quantitative", "scale": {"domain": [-2.2, 2.2], "nice": false, "zero": false}, "axis": null}, "y": {"datum": 1.52, "type": "quantitative", "scale": {"domain": [-2.2, 2.2], "nice": false, "zero": false}, "axis": null}}}
 ]
},
{
 "width": 434, "height": 424,
 "resolve": {"axis": {"x": "independent", "y": "independent"}},
 "layer": [
  {"data": {"name": "grid"}, "mark": {"type": "line", "strokeWidth": 1},
   "encoding": {
    "x": {"field": "x", "type": "quantitative", "scale": {"domain": [-2.2, 2.2], "nice": false, "zero": false}, "axis": {"values": [-2,-1.5,-1,-0.5,0,0.5,1,1.5,2], "labelExpr": "abs(datum.value) + ''", "labelPadding": 28, "labelFlush": false, "title": "(d) eps1 = 15%", "titlePadding": 14}},
    "y": {"field": "y", "type": "quantitative", "scale": {"domain": [-2.2, 2.2], "nice": false, "zero": false}, "axis": {"values": [-2,-1.5,-1,-0.5,0,0.5,1,1.5,2], "labelExpr": "abs(datum.value) + ''", "labelPadding": 24, "labelFlush": false, "title": null}},
    "detail": {"field": "r", "type": "nominal"},
    "order": {"field": "i", "type": "quantitative"},
    "color": {"condition": {"test": "datum.r == 2", "value": "#333333"}, "value": "#666666"},
    "strokeDash": {"condition": {"test": "datum.r == 2", "value": [2, 2]}, "value": [1, 0]}
   }},
  {"data": {"name": "spokes"}, "mark": {"type": "rule", "color": "#333333", "strokeWidth": 1, "strokeDash": [2, 2.5]},
   "encoding": {
    "x": {"field": "x", "type": "quantitative", "scale": {"domain": [-2.2, 2.2], "nice": false, "zero": false}, "axis": {"orient": "top", "values": [-2,-1.5,-1,-0.5,0,0.5,1,1.5,2], "labels": false, "title": null}},
    "y": {"field": "y", "type": "quantitative", "scale": {"domain": [-2.2, 2.2], "nice": false, "zero": false}, "axis": {"orient": "right", "values": [-2,-1.5,-1,-0.5,0,0.5,1,1.5,2], "labels": false, "title": null}},
    "x2": {"field": "x2"}, "y2": {"field": "y2"}
   }},
  {"data": {"name": "d_cap"}, "mark": {"type": "line", "color": "#000000", "strokeWidth": 4, "strokeDash": [4, 2.5]},
   "encoding": {"x": {"field": "x", "type": "quantitative", "scale": {"domain": [-2.2, 2.2], "nice": false, "zero": false}, "axis": null}, "y": {"field": "y", "type": "quantitative", "scale": {"domain": [-2.2, 2.2], "nice": false, "zero": false}, "axis": null}, "order": {"field": "i", "type": "quantitative"}}},
  {"data": {"name": "d_cont"}, "mark": {"type": "line", "color": "#000000", "strokeWidth": 3.5},
   "encoding": {"x": {"field": "x", "type": "quantitative", "scale": {"domain": [-2.2, 2.2], "nice": false, "zero": false}, "axis": null}, "y": {"field": "y", "type": "quantitative", "scale": {"domain": [-2.2, 2.2], "nice": false, "zero": false}, "axis": null}, "order": {"field": "i", "type": "quantitative"}}},
  {"data": {"values": [{}]}, "mark": {"type": "rule", "color": "#000000", "strokeWidth": 3.5},
   "encoding": {"x": {"datum": 1.46, "type": "quantitative", "scale": {"domain": [-2.2, 2.2], "nice": false, "zero": false}, "axis": null}, "x2": {"datum": 2.2}, "y": {"datum": 1.91, "type": "quantitative", "scale": {"domain": [-2.2, 2.2], "nice": false, "zero": false}, "axis": null}}},
  {"data": {"values": [{}]}, "mark": {"type": "rule", "color": "#000000", "strokeWidth": 4, "strokeDash": [4, 2.5]},
   "encoding": {"x": {"datum": 1.46, "type": "quantitative", "scale": {"domain": [-2.2, 2.2], "nice": false, "zero": false}, "axis": null}, "x2": {"datum": 2.2}, "y": {"datum": 1.64, "type": "quantitative", "scale": {"domain": [-2.2, 2.2], "nice": false, "zero": false}, "axis": null}}},
  {"data": {"values": [{}]}, "mark": {"type": "text", "text": "F", "font": "DejaVu Serif", "fontStyle": "italic", "fontWeight": "bold", "fontSize": 22, "align": "left", "baseline": "alphabetic", "color": "#000000"},
   "encoding": {"x": {"datum": 0.73, "type": "quantitative", "scale": {"domain": [-2.2, 2.2], "nice": false, "zero": false}, "axis": null}, "y": {"datum": 1.82, "type": "quantitative", "scale": {"domain": [-2.2, 2.2], "nice": false, "zero": false}, "axis": null}}},
  {"data": {"values": [{}]}, "mark": {"type": "text", "text": "cont", "font": "DejaVu Serif", "fontStyle": "italic", "fontSize": 16, "align": "left", "baseline": "alphabetic", "color": "#000000"},
   "encoding": {"x": {"datum": 0.95, "type": "quantitative", "scale": {"domain": [-2.2, 2.2], "nice": false, "zero": false}, "axis": null}, "y": {"datum": 1.77, "type": "quantitative", "scale": {"domain": [-2.2, 2.2], "nice": false, "zero": false}, "axis": null}}},
  {"data": {"values": [{}]}, "mark": {"type": "text", "text": "F", "font": "DejaVu Serif", "fontStyle": "italic", "fontWeight": "bold", "fontSize": 22, "align": "left", "baseline": "alphabetic", "color": "#000000"},
   "encoding": {"x": {"datum": 0.73, "type": "quantitative", "scale": {"domain": [-2.2, 2.2], "nice": false, "zero": false}, "axis": null}, "y": {"datum": 1.55, "type": "quantitative", "scale": {"domain": [-2.2, 2.2], "nice": false, "zero": false}, "axis": null}}},
  {"data": {"values": [{}]}, "mark": {"type": "text", "text": "cap", "font": "DejaVu Serif", "fontStyle": "italic", "fontSize": 16, "align": "left", "baseline": "alphabetic", "color": "#000000"},
   "encoding": {"x": {"datum": 0.96, "type": "quantitative", "scale": {"domain": [-2.2, 2.2], "nice": false, "zero": false}, "axis": null}, "y": {"datum": 1.52, "type": "quantitative", "scale": {"domain": [-2.2, 2.2], "nice": false, "zero": false}, "axis": null}}}
 ]
}
]
}
